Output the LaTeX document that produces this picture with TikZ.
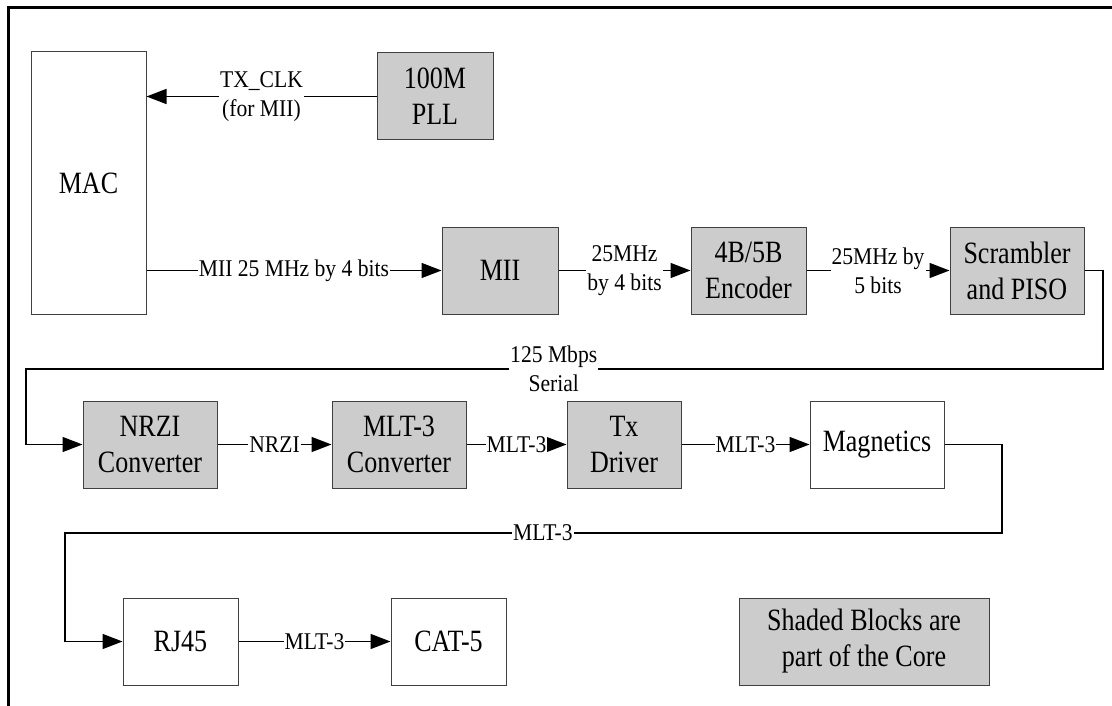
\documentclass[tikz,border=0pt]{standalone}
\usepackage{fontspec}
\setmainfont{Liberation Serif}
\newfontfamily\blockfont[FakeStretch=0.84]{Liberation Serif}
\newfontfamily\wirefont[FakeStretch=0.9]{Liberation Serif}
\usetikzlibrary{arrows.meta}
\definecolor{coregray}{HTML}{CCCCCC}
\definecolor{edgegray}{HTML}{404040}

\begin{document}
\begin{tikzpicture}[x=1pt, y=-1pt,
    block/.style={draw=edgegray, line width=1pt, minimum height=87pt, inner sep=0pt, align=center, font=\blockfont\fontsize{31}{36}\selectfont},
    core/.style={block, fill=coregray},
    wire/.style={line width=1.5pt, -{Triangle[length=20pt, width=15pt]}},
    tag/.style={fill=white, inner sep=1pt, align=center, font=\wirefont\fontsize{24}{29}\selectfont}]

        \useasboundingbox (0,0) rectangle (1112,706);

        % frame (top and left only)
        \draw[line width=3pt] (8,706) -- (8,8) -- (1112,8);

        \node[block, minimum width=115pt, minimum height=262pt] (mac) at (88.5,183) {MAC};
        \node[core, minimum width=116pt] (pll) at (435,96.5) {100M\\PLL};

        \node[core, minimum width=116pt] (mii) at (500,270.5) {MII};
        \node[core, minimum width=115pt] (enc) at (748.5,270.5) {4B/5B\\Encoder};
        \node[core, minimum width=134pt] (scr) at (1017,270.5) {Scrambler\\and PISO};

        \node[core, minimum width=134pt] (nrzi) at (150,444.5) {NRZI\\Converter};
        \node[core, minimum width=134pt] (mlt) at (399,444.5) {MLT-3\\Converter};
        \node[core, minimum width=114pt] (txd) at (624,444.5) {Tx\\Driver};
        \node[block, minimum width=134pt] (mag) at (877,444.5) {Magnetics};

        \node[block, minimum width=115pt] (rj) at (180.5,641.5) {RJ45};
        \node[block, minimum width=115pt] (cat) at (448.5,641.5) {CAT-5};
        \node[core, minimum width=250pt] (legend) at (864,641.5) {Shaded Blocks are\\part of the Core};

        % bends of the long wires
        \coordinate (s1) at (1103,270.5);
        \coordinate (s2) at (1103,369);
        \coordinate (s3) at (26,369);
        \coordinate (s4) at (26,444.5);
        \coordinate (m1) at (1002,444.5);
        \coordinate (m2) at (1002,533);
        \coordinate (m3) at (65,533);
        \coordinate (m4) at (65,641.5);

        % Draw clock back to the MAC
        \draw[wire] (pll.west) -- (pll.west -| mac.east) node[tag, midway] {TX\_CLK\\(for MII)};

        % Draw data path, first row
        \draw[wire] (mii.west -| mac.east) -- (mii.west) node[tag, midway] {MII 25 MHz by 4 bits};
        \draw[wire] (mii) -- (enc) node[tag, midway] {25MHz\\by 4 bits};
        \draw[wire] (enc) -- (scr) node[tag, midway] {25MHz by\\5 bits};

        % Draw serial wire down to the second row
        \draw[wire] (scr.east) -- (s1) -- (s2) -- (s3) node[tag, pos=0.51] {125 Mbps\\Serial} -- (s4) -- (nrzi.west);

        % Draw second row
        \draw[wire] (nrzi) -- (mlt) node[tag, midway] {NRZI};
        \draw[wire] (mlt) -- (txd) node[tag, midway] {MLT-3};
        \draw[wire] (txd) -- (mag) node[tag, midway] {MLT-3};

        % Draw wire down to the third row
        \draw[wire] (mag.east) -- (m1) -- (m2) -- (m3) node[tag, pos=0.49] {MLT-3} -- (m4) -- (rj.west);
        \draw[wire] (rj) -- (cat) node[tag, midway] {MLT-3};

\end{tikzpicture}
\end{document}
